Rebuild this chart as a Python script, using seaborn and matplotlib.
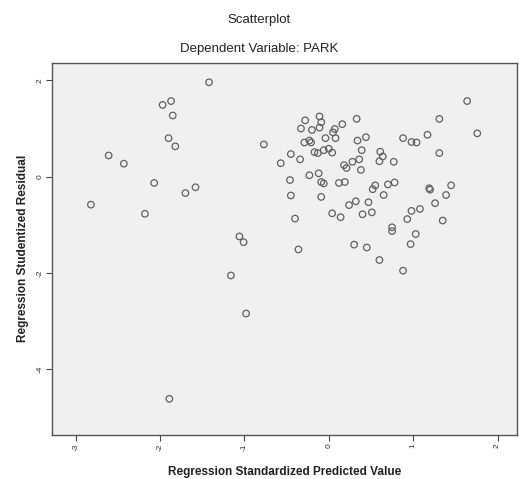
import matplotlib
matplotlib.use("Agg")
import matplotlib.pyplot as plt
import seaborn as sns
import pandas as pd

predicted = [
    -1.42, -1.97, -1.87, -1.85, -1.90, -1.82, -2.61, -2.43, -2.07, -1.70, -1.58, -2.82, -2.18,
    -0.77, -0.57, -1.06, -1.01, -1.16, -0.98, -1.89,
    1.64, 1.76, 1.31, 1.17, 0.88, 0.98, 1.04, 1.31,
    -0.45, -0.34, -0.46, -0.45, -0.40, -0.36,
    -0.28, -0.33, -0.11, -0.09, -0.20, -0.11, -0.29, -0.23, -0.21,
    0.07, 0.16, 0.05, -0.04, 0.08, 0.33, 0.34, 0.44,
    -0.17, -0.13, -0.06, 0.00, 0.04, 0.39,
    0.18, 0.21, 0.28, 0.36, 0.38, 0.61, 0.64, 0.60, 0.77,
    -0.23, -0.12, -0.09, -0.06, -0.09, 0.12, 0.19,
    0.55, 0.52, 0.70, 0.78, 0.65, 0.24, 0.32, 0.04, 0.14, 0.40, 0.51, 0.47,
    1.19, 1.20, 1.45, 1.39, 1.26, 1.08, 0.98, 0.93, 1.35,
    0.75, 0.75, 1.03, 0.97, 0.30, 0.45, 0.60, 0.88,
]
residual = [
    1.96, 1.49, 1.57, 1.27, 0.80, 0.63, 0.44, 0.27, -0.13, -0.34, -0.22, -0.58, -0.77,
    0.67, 0.28, -1.24, -1.36, -2.05, -2.84, -4.61,
    1.57, 0.90, 1.20, 0.87, 0.80, 0.72, 0.71, 0.49,
    0.47, 0.36, -0.07, -0.39, -0.87, -1.51,
    1.17, 1.00, 1.25, 1.13, 0.97, 1.02, 0.71, 0.75, 0.71,
    0.99, 1.09, 0.92, 0.80, 0.80, 1.20, 0.75, 0.82,
    0.51, 0.49, 0.55, 0.58, 0.50, 0.55,
    0.24, 0.18, 0.31, 0.36, 0.14, 0.52, 0.42, 0.32, 0.31,
    0.03, 0.07, -0.11, -0.14, -0.42, -0.13, -0.11,
    -0.18, -0.26, -0.16, -0.12, -0.38, -0.59, -0.51, -0.76, -0.84, -0.78, -0.74, -0.53,
    -0.24, -0.27, -0.18, -0.38, -0.55, -0.67, -0.71, -0.88, -0.91,
    -1.05, -1.13, -1.19, -1.40, -1.41, -1.47, -1.73, -1.95,
]

x_ticks = [-3, -2, -1, 0, 1, 2]
y_ticks = [2, 0, -2, -4]

df = pd.DataFrame({"pred": predicted, "resid": residual})

sns.set_style("white")
plt.rcParams["font.family"] = ["Liberation Sans", "DejaVu Sans"]
plt.rcParams["axes.unicode_minus"] = False

fig = plt.figure(figsize=(5.19, 4.79), dpi=100)
ax = fig.add_axes([0.0996, 0.092, 0.8964, 0.7775])
ax.set_facecolor("#f0f0f0")

sns.scatterplot(data=df, x="pred", y="resid", ax=ax, s=22,
                facecolors="none", edgecolor="#606060", linewidth=0.9)

ax.set_xlim(-3.285, 2.23)
ax.set_ylim(-5.36, 2.37)
ax.set_xticks(x_ticks)
ax.set_yticks(y_ticks)
ax.set_xticklabels([str(t) for t in x_ticks], rotation=90, fontsize=6, color="#333333")
ax.set_yticklabels([str(t) for t in y_ticks], rotation=90, fontsize=6, color="#333333", va="center")
ax.tick_params(axis="both", which="major", length=4, width=0.8, color="#444444",
               direction="out", pad=2, bottom=True, left=True)
for sp in ax.spines.values():
    sp.set_color("#555555")
    sp.set_linewidth(1.0)

ax.set_xlabel("Regression Standardized Predicted Value", fontsize=8.5, fontweight="bold",
              color="#222222", labelpad=11)
ax.set_ylabel("Regression Studentized Residual", fontsize=8.5, fontweight="bold",
              color="#222222", labelpad=5)

fig.text(0.5, 1 - 20 / 479, "Scatterplot", ha="center", va="center", fontsize=9.5,
         color="#222222")
fig.text(0.5, 1 - 49 / 479, "Dependent Variable: PARK", ha="center", va="center",
         fontsize=9.5, color="#222222")

fig.savefig("out.png", dpi=100, facecolor="white")
